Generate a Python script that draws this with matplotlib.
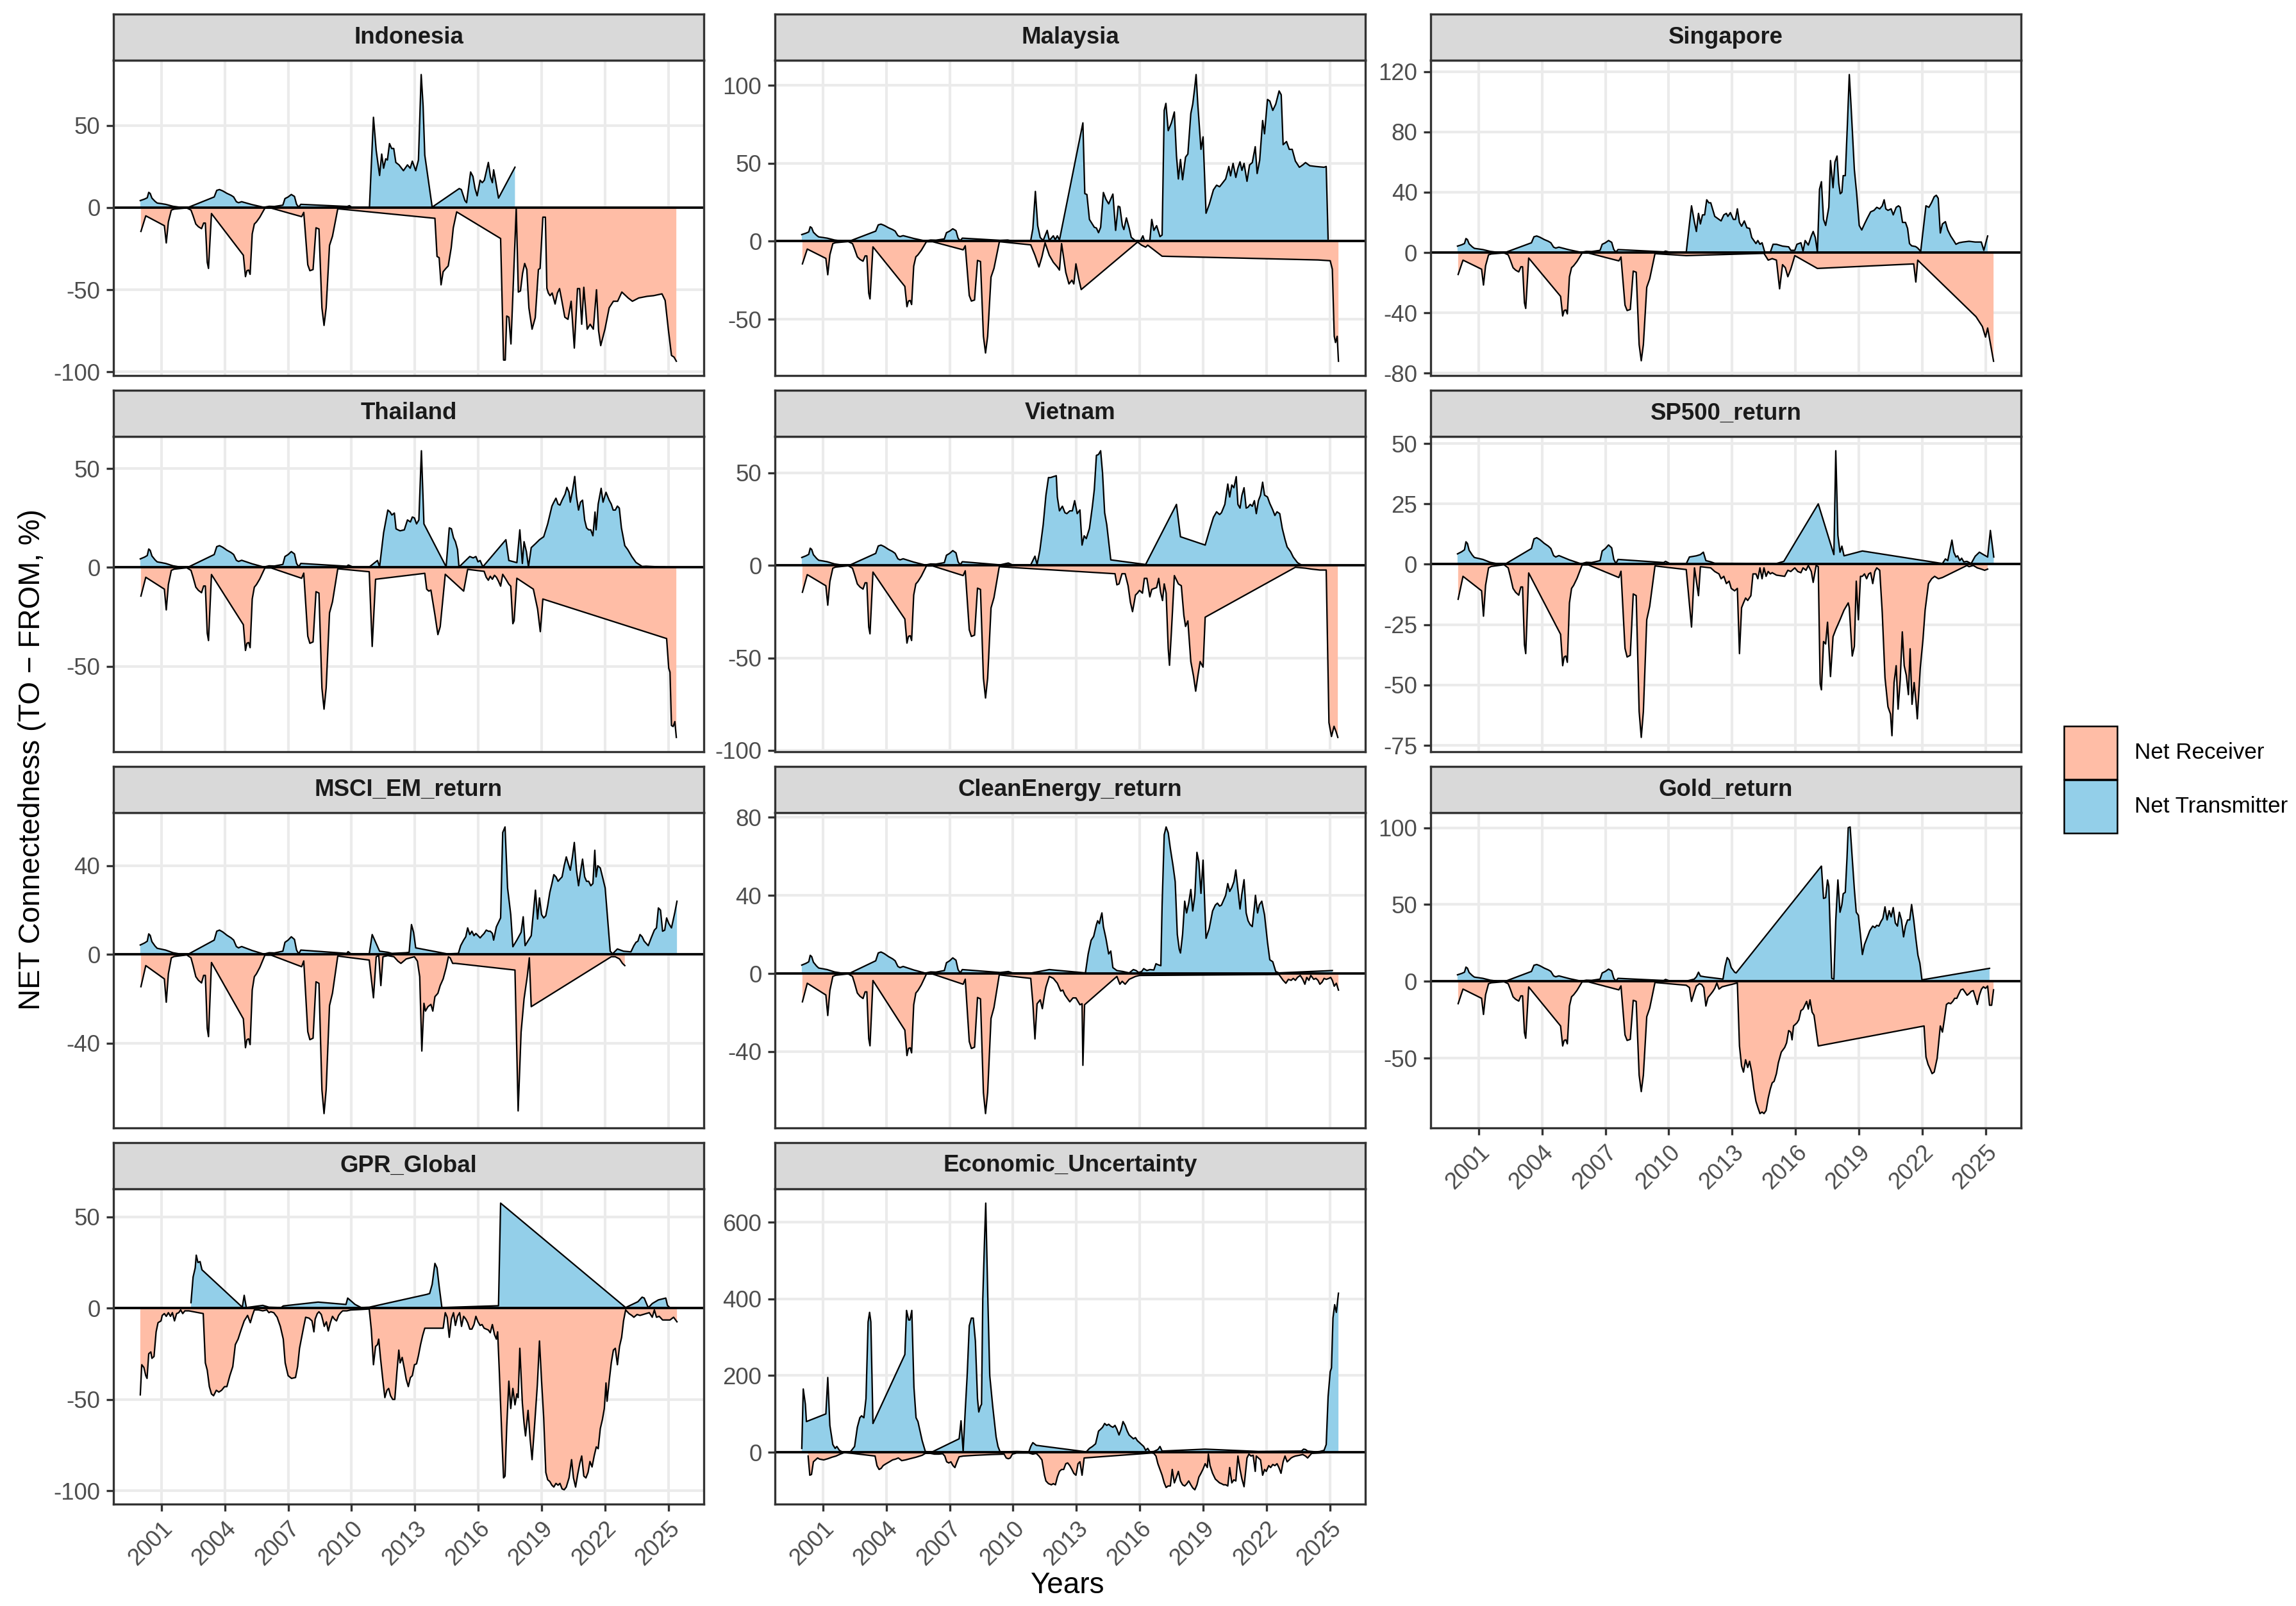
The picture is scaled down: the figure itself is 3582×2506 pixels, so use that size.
import matplotlib
matplotlib.use("Agg")
import matplotlib.pyplot as plt
from matplotlib.patches import Rectangle
import numpy as np

# ---------------- DATA ----------------
YEAR_TICKS = [2001, 2004, 2007, 2010, 2013, 2016, 2019, 2022, 2025]

COMMON_POS = [
    (2000.00, 4.3), (2000.20, 5.2), (2000.33, 6.0), (2000.40, 9.3), (2000.47, 8.6),
    (2000.55, 5.8), (2000.70, 3.8), (2000.80, 2.8), (2001.20, 2.0), (2001.55, 0.8),
    (2001.90, 0.2), (2002.30, 0.3), (2003.50, 6.5), (2003.62, 10.5), (2003.75, 11.0),
    (2003.90, 10.2), (2004.10, 8.7), (2004.30, 7.5), (2004.42, 6.5), (2004.55, 3.6),
    (2004.65, 3.0), (2004.80, 3.6), (2005.30, 1.8), (2005.85, 0.2), (2006.10, 0.8),
    (2006.35, 0.7), (2006.75, 1.5), (2006.85, 5.5), (2007.00, 6.5), (2007.15, 8.0),
    (2007.30, 6.8), (2007.40, 2.0), (2007.50, 0.3), (2007.60, 2.0),
]
COMMON_NEG = [
    (2000.03, -14.5), (2000.26, -5.0), (2001.14, -11.0), (2001.23, -21.5), (2001.33, -8.7),
    (2001.47, -1.5), (2001.60, -0.9), (2002.20, -0.2), (2002.40, -1.5), (2002.50, -5.0),
    (2002.63, -10.0), (2002.75, -11.6), (2002.90, -12.8), (2003.00, -9.4), (2003.08, -9.4),
    (2003.17, -33.3), (2003.23, -37.0), (2003.37, -3.6), (2004.88, -29.0), (2004.98, -42.0),
    (2005.05, -38.4), (2005.13, -38.0), (2005.20, -40.6), (2005.30, -16.0), (2005.40, -10.0),
    (2005.50, -8.7), (2005.66, -5.8), (2005.90, -0.3), (2006.20, -0.3), (2007.64, -5.5),
    (2007.74, -2.9), (2007.93, -34.8), (2008.03, -38.4), (2008.18, -37.7), (2008.32, -12.3),
    (2008.46, -13.0), (2008.60, -61.0), (2008.70, -71.7), (2008.80, -61.0), (2008.96, -23.0),
    (2009.10, -17.4), (2009.35, -0.7),
]

INDONESIA_POS = COMMON_POS + [
    (2009.80, 0.7), (2009.90, 1.2), (2010.00, 0.3), (2010.85, 0.2), (2011.04, 55), (2011.17, 34.8),
    (2011.33, 19.6), (2011.43, 32.6), (2011.52, 24), (2011.62, 29.7), (2011.70, 29), (2011.80, 39),
    (2011.90, 36), (2012.00, 36), (2012.10, 27.5), (2012.25, 26), (2012.46, 22.5), (2012.65, 26),
    (2012.78, 24), (2012.88, 28.3), (2013.04, 22.5), (2013.17, 29), (2013.30, 81), (2013.39, 62),
    (2013.47, 32), (2013.82, 0.3), (2015.10, 11.6), (2015.20, 11), (2015.37, 4.3), (2015.45, 3),
    (2015.64, 21.7), (2015.75, 19), (2015.85, 11.6), (2015.95, 7.2), (2016.09, 16.7), (2016.19, 15.2),
    (2016.29, 16.7), (2016.48, 27.5), (2016.58, 18.8), (2016.67, 15.2), (2016.73, 23), (2016.81, 17.4),
    (2016.96, 5.8), (2017.74, 24.6),
]
INDONESIA_NEG = COMMON_NEG + [
    (2013.95, -6.5), (2014.05, -29.7), (2014.15, -30.5), (2014.24, -47), (2014.34, -39), (2014.47, -37),
    (2014.58, -35.5), (2014.72, -24.6), (2014.82, -12.3), (2014.98, -2.6), (2017.06, -18.8),
    (2017.20, -92.8), (2017.28, -92.8), (2017.35, -66), (2017.45, -66.7), (2017.55, -83), (2017.80, -0.5),
    (2017.90, -51.4), (2018.00, -50.7), (2018.10, -40), (2018.20, -34), (2018.30, -37.7), (2018.40, -61),
    (2018.55, -74), (2018.70, -67), (2018.85, -37.7), (2018.93, -37), (2019.06, -5.8), (2019.18, -5.8),
    (2019.25, -49), (2019.32, -52), (2019.40, -53.6), (2019.50, -52), (2019.64, -58.7), (2019.75, -52),
    (2019.85, -49.3), (2019.95, -56), (2020.10, -66.7), (2020.25, -68), (2020.40, -57), (2020.55, -85.5),
    (2020.70, -49.3), (2020.80, -49.3), (2020.90, -71), (2021.00, -48.5), (2021.16, -74), (2021.30, -71),
    (2021.45, -74), (2021.60, -50), (2021.70, -75), (2021.80, -84), (2022.00, -74), (2022.20, -61),
    (2022.40, -57), (2022.60, -57), (2022.80, -51.4), (2023.10, -55), (2023.30, -57), (2023.60, -55),
    (2024.00, -54), (2024.30, -53.6), (2024.70, -52.5), (2024.85, -56.5), (2025.00, -74), (2025.15, -90),
    (2025.27, -91), (2025.38, -93.5),
]

MALAYSIA_POS = COMMON_POS + [
    (2009.39, 0.6), (2009.75, 0.8), (2009.97, 0.2), (2010.84, 0.5), (2010.94, 8), (2011.06, 32),
    (2011.17, 10), (2011.29, 2.4), (2011.43, 0.5), (2011.62, 7), (2011.72, 0.5), (2011.91, 3.5),
    (2012.00, 1), (2012.10, 3.5), (2012.20, 0.8), (2013.31, 76), (2013.40, 30.6), (2013.50, 30),
    (2013.62, 14), (2013.76, 11), (2013.85, 9), (2013.95, 8.5), (2014.05, 5.5), (2014.15, 9),
    (2014.28, 31.3), (2014.40, 27), (2014.53, 24), (2014.73, 30.3), (2014.86, 7), (2014.98, 22.5),
    (2015.06, 22), (2015.18, 10), (2015.25, 7.5), (2015.37, 15), (2015.50, 8.5), (2015.60, 2.5),
    (2015.80, 0.3), (2016.03, 0.2), (2016.15, 3.5), (2016.22, 0.5), (2016.48, 0.5), (2016.57, 14),
    (2016.67, 7), (2016.80, 10), (2016.96, 3), (2017.06, 4), (2017.16, 84), (2017.24, 88.5),
    (2017.35, 71), (2017.50, 76), (2017.64, 83), (2017.74, 55), (2017.83, 40), (2017.93, 52.5),
    (2018.03, 39.5), (2018.17, 54), (2018.28, 56), (2018.42, 82), (2018.51, 88), (2018.60, 98),
    (2018.67, 107), (2018.75, 88), (2018.90, 59), (2019.00, 67), (2019.14, 18), (2019.30, 24),
    (2019.49, 33), (2019.64, 36), (2019.78, 35), (2019.87, 36.5), (2020.07, 40), (2020.22, 48),
    (2020.30, 42), (2020.42, 50), (2020.55, 41), (2020.65, 47), (2020.75, 51), (2020.84, 45.5),
    (2020.94, 50), (2021.08, 38.5), (2021.20, 49), (2021.33, 50.5), (2021.47, 60.7), (2021.56, 43.5),
    (2021.68, 52), (2021.82, 77.5), (2021.91, 69), (2022.05, 91), (2022.16, 90), (2022.30, 84),
    (2022.44, 88), (2022.60, 96.5), (2022.70, 94), (2022.79, 62), (2022.95, 64), (2023.08, 59),
    (2023.22, 59), (2023.37, 51.5), (2023.56, 47.5), (2023.72, 49), (2023.85, 50.5), (2024.05, 48.5),
    (2024.34, 48), (2024.73, 47.5), (2024.83, 48), (2024.92, 1.5),
]
MALAYSIA_NEG = COMMON_NEG + [
    (2009.39, -0.3), (2010.84, -2.3), (2011.04, -9), (2011.23, -16.5), (2011.37, -10), (2011.52, -1),
    (2011.72, -9), (2011.91, -13.5), (2012.10, -16.5), (2012.20, -18.5), (2012.30, -1.5), (2012.50, -20),
    (2012.65, -27.4), (2012.79, -25), (2012.88, -27.4), (2012.98, -14.5), (2013.12, -24.5),
    (2013.23, -31), (2015.90, -0.5), (2016.09, -2.5), (2016.28, -3.8), (2016.38, -2.5), (2017.06, -9.6),
    (2024.44, -12), (2025.02, -12.5), (2025.12, -18), (2025.21, -61), (2025.27, -65), (2025.35, -61),
    (2025.41, -77),
]

SINGAPORE_POS = COMMON_POS + [
    (2009.76, 0.5), (2009.85, 1), (2010.05, 0.2), (2010.83, 0.2), (2011.08, 31), (2011.22, 20),
    (2011.31, 14), (2011.41, 26), (2011.50, 19), (2011.60, 25), (2011.70, 25), (2011.80, 35),
    (2011.90, 33), (2011.99, 33), (2012.18, 24), (2012.38, 22), (2012.48, 21), (2012.61, 25),
    (2012.73, 26), (2012.80, 24), (2012.92, 26.5), (2013.06, 22), (2013.16, 22), (2013.25, 29),
    (2013.35, 20), (2013.45, 17.5), (2013.58, 21), (2013.70, 16.5), (2013.83, 16), (2013.93, 10),
    (2014.03, 8), (2014.13, 6), (2014.22, 8), (2014.32, 5.5), (2014.42, 6.5), (2014.55, 0.2),
    (2014.81, 0.2), (2014.94, 5.5), (2015.10, 5.5), (2015.39, 4.3), (2015.68, 3.8), (2015.78, 1.5),
    (2015.97, 1.5), (2016.07, 5.5), (2016.26, 6.5), (2016.36, 1), (2016.46, 8), (2016.61, 5),
    (2016.75, 11), (2016.84, 14), (2016.94, 10), (2017.04, 0.3), (2017.14, 42), (2017.23, 47),
    (2017.33, 22), (2017.43, 18), (2017.58, 30), (2017.66, 61), (2017.78, 43), (2017.87, 60),
    (2017.97, 64), (2018.05, 46), (2018.12, 39), (2018.20, 40), (2018.26, 51), (2018.36, 51),
    (2018.46, 85), (2018.55, 118), (2018.63, 98), (2018.79, 55), (2018.90, 39), (2019.02, 18),
    (2019.14, 15), (2019.27, 19), (2019.41, 23), (2019.56, 27), (2019.72, 28), (2019.85, 30),
    (2019.99, 29), (2020.11, 31), (2020.20, 35), (2020.28, 29), (2020.38, 28), (2020.53, 29),
    (2020.63, 25), (2020.77, 30), (2020.88, 31), (2020.96, 30), (2021.07, 20), (2021.21, 20),
    (2021.31, 16), (2021.40, 6), (2021.50, 4.5), (2021.69, 4), (2021.79, 3), (2021.93, 0.8),
    (2022.09, 20), (2022.18, 31), (2022.32, 30), (2022.44, 33), (2022.57, 37), (2022.67, 38),
    (2022.76, 36), (2022.86, 13), (2022.96, 19), (2023.10, 20.5), (2023.21, 15), (2023.35, 11),
    (2023.49, 8), (2023.60, 5.5), (2023.74, 6.5), (2023.93, 7), (2024.22, 7.5), (2024.51, 7),
    (2024.80, 7), (2024.92, 1.5), (2025.10, 11),
]
SINGAPORE_NEG = COMMON_NEG + [
    (2010.83, -2.0), (2014.51, -0.5), (2014.71, -5), (2014.90, -4), (2015.10, -5), (2015.25, -24),
    (2015.39, -8), (2015.52, -10), (2015.64, -16), (2015.78, -11), (2015.97, -2), (2017.04, -10.5),
    (2021.60, -7.5), (2021.70, -19.5), (2021.79, -5), (2024.55, -42.5), (2024.85, -49),
    (2025.00, -56), (2025.10, -50), (2025.38, -72),
]

THAILAND_POS = COMMON_POS + [
    (2009.78, 0.6), (2009.85, 1.2), (2010.07, 0.2), (2010.84, 0.2), (2011.23, 3.5), (2011.33, 0.3),
    (2011.52, 17.5), (2011.72, 29), (2011.83, 28), (2011.91, 26.5), (2012.03, 27.5), (2012.11, 19.5),
    (2012.20, 19), (2012.30, 18.5), (2012.50, 19), (2012.65, 24), (2012.79, 23), (2012.88, 25.5),
    (2012.98, 25), (2013.08, 22), (2013.19, 24), (2013.31, 59), (2013.43, 22), (2014.48, 0.3),
    (2014.63, 20), (2014.73, 19.5), (2014.83, 15), (2014.92, 13), (2015.02, 9), (2015.09, 0.2),
    (2015.60, 5.5), (2015.76, 4.8), (2015.89, 5.5), (2015.99, 2.8), (2016.09, 3.5), (2016.22, 0.3),
    (2017.31, 14), (2017.45, 3.5), (2017.83, 2.4), (2017.97, 19), (2018.09, 2), (2018.17, 13),
    (2018.28, 8), (2018.38, 0.3), (2018.51, 10), (2018.71, 12), (2018.90, 14), (2019.10, 15.5),
    (2019.29, 22), (2019.49, 31), (2019.58, 33), (2019.68, 35), (2019.78, 32), (2019.87, 31.5),
    (2019.97, 34), (2020.11, 37), (2020.20, 40.5), (2020.30, 38), (2020.36, 33), (2020.46, 38.5),
    (2020.57, 46), (2020.65, 36), (2020.75, 29), (2020.84, 33), (2020.94, 34), (2021.04, 24),
    (2021.13, 20), (2021.23, 19), (2021.33, 19), (2021.43, 16), (2021.53, 28), (2021.58, 19),
    (2021.68, 32), (2021.82, 40), (2021.91, 33), (2022.05, 38), (2022.20, 34), (2022.30, 32),
    (2022.39, 29), (2022.49, 29), (2022.59, 31), (2022.68, 30), (2022.78, 20), (2022.94, 11),
    (2023.08, 9), (2023.27, 5.5), (2023.47, 2.5), (2023.76, 0.5), (2023.95, 0.6), (2024.34, 0.4),
    (2024.63, 0.2), (2024.83, 0.2),
]
THAILAND_NEG = COMMON_NEG + [
    (2010.84, -2.2), (2010.98, -40), (2011.14, -6), (2013.47, -3), (2013.56, -11), (2013.66, -12),
    (2013.76, -11.5), (2013.95, -24), (2014.09, -34), (2014.20, -30), (2014.44, -3.5), (2015.31, -12),
    (2015.50, -1), (2016.28, -2), (2016.38, -5), (2016.48, -6.5), (2016.57, -4.5), (2016.67, -6),
    (2016.77, -4), (2016.86, -5), (2016.96, -7), (2017.06, -9.5), (2017.16, -3.5), (2017.31, -6),
    (2017.45, -8.5), (2017.54, -9.5), (2017.64, -28.5), (2017.70, -27), (2017.83, -5.5),
    (2018.61, -11), (2018.81, -21), (2018.94, -32.5), (2019.06, -16), (2024.92, -36), (2025.02, -51),
    (2025.08, -53), (2025.15, -80), (2025.23, -80.5), (2025.31, -78), (2025.38, -86),
]

VIETNAM_POS = COMMON_POS + [
    (2009.39, 0.3), (2009.78, 1.3), (2009.97, 0.3), (2010.84, 0.3), (2011.04, 5), (2011.14, 0.5),
    (2011.27, 8), (2011.43, 22), (2011.56, 38), (2011.68, 47.5), (2011.78, 47.5), (2011.91, 48),
    (2012.05, 48.5), (2012.10, 37), (2012.20, 29.5), (2012.34, 32), (2012.46, 28.5), (2012.55, 28),
    (2012.69, 29.5), (2012.81, 29.5), (2012.92, 35), (2013.04, 28), (2013.17, 30), (2013.27, 11),
    (2013.37, 16), (2013.47, 14.5), (2013.62, 20), (2013.76, 32), (2013.85, 41), (2013.95, 59.5),
    (2014.05, 60), (2014.15, 62), (2014.24, 50), (2014.34, 28.5), (2014.44, 22), (2014.63, 3),
    (2016.28, 0.5), (2017.74, 33), (2017.93, 15.5), (2019.10, 11), (2019.33, 20), (2019.49, 26),
    (2019.64, 29), (2019.78, 27.5), (2019.87, 28.5), (2020.03, 33), (2020.17, 44), (2020.26, 37),
    (2020.36, 43.5), (2020.46, 42), (2020.57, 48), (2020.65, 33), (2020.75, 31), (2020.84, 38),
    (2020.94, 42), (2021.04, 31), (2021.13, 31.5), (2021.23, 33), (2021.33, 32), (2021.43, 35),
    (2021.52, 28), (2021.62, 35), (2021.72, 38), (2021.82, 45), (2021.91, 38), (2022.05, 37),
    (2022.16, 33.5), (2022.30, 30), (2022.40, 27), (2022.50, 29), (2022.63, 28), (2022.75, 20),
    (2022.88, 14), (2022.98, 10), (2023.14, 7.5), (2023.27, 4.5), (2023.47, 1.5), (2023.66, 0.2),
]
VIETNAM_NEG = COMMON_NEG + [
    (2014.83, -4.5), (2014.92, -10.5), (2015.02, -10), (2015.16, -4.5), (2015.31, -4.5),
    (2015.45, -11), (2015.56, -20), (2015.66, -25), (2015.80, -16), (2015.89, -15), (2015.99, -13.5),
    (2016.13, -15), (2016.22, -7), (2016.34, -7), (2016.48, -17), (2016.57, -13), (2016.67, -12.5),
    (2016.80, -12), (2016.90, -7), (2016.99, -14.5), (2017.08, -19), (2017.16, -10), (2017.25, -15),
    (2017.35, -45), (2017.41, -54), (2017.50, -36), (2017.64, -5.5), (2017.83, -10), (2017.97, -11),
    (2018.09, -27), (2018.17, -33), (2018.28, -30), (2018.42, -52), (2018.55, -60), (2018.65, -68),
    (2018.75, -60), (2018.86, -52), (2019.00, -55), (2019.10, -28), (2023.37, -1), (2023.85, -1.5),
    (2024.14, -2), (2024.53, -2.5), (2024.83, -2.5), (2024.96, -85), (2025.08, -92.5),
    (2025.20, -87), (2025.30, -90), (2025.38, -93),
]

SP500_POS = COMMON_POS + [
    (2009.76, 0.7), (2009.85, 1.2), (2010.05, 0.3), (2010.83, 0.2), (2010.98, 3), (2011.31, 3.5),
    (2011.50, 4), (2011.64, 5), (2011.76, 1.5), (2011.99, 1), (2012.18, 0.4), (2015.10, 0.3),
    (2015.45, 1.2), (2017.08, 25), (2017.82, 4), (2017.91, 47), (2018.01, 12), (2018.11, 5),
    (2018.20, 7.5), (2018.30, 3.5), (2019.17, 5.5), (2022.96, 0.3), (2023.10, 2.2), (2023.21, 1.5),
    (2023.41, 10), (2023.50, 5), (2023.60, 3), (2023.68, 3.5), (2023.78, 1.5), (2023.87, 2.5),
    (2023.97, 1), (2024.12, 1.2), (2024.32, 0.3), (2024.51, 3.3), (2024.71, 5), (2024.90, 4),
    (2025.10, 3), (2025.23, 14), (2025.39, 3),
]
SP500_NEG = COMMON_NEG + [
    (2010.83, -2.2), (2011.08, -26), (2011.22, -1.5), (2011.41, -13), (2011.50, -1), (2011.99, -1.5),
    (2012.18, -3), (2012.38, -4), (2012.48, -6), (2012.61, -5), (2012.73, -8), (2012.86, -7),
    (2012.96, -10), (2013.12, -11), (2013.25, -10), (2013.35, -37), (2013.45, -18), (2013.54, -16),
    (2013.64, -14), (2013.74, -15), (2013.89, -13), (2013.99, -4), (2014.13, -4), (2014.22, -6),
    (2014.32, -1.5), (2014.42, -6), (2014.51, -1.5), (2014.61, -5), (2014.71, -3), (2014.81, -4),
    (2014.90, -3.5), (2015.10, -4.5), (2015.49, -5), (2015.64, -2.5), (2015.78, -3), (2015.97, -1.5),
    (2016.11, -3), (2016.26, -3.5), (2016.36, -1.5), (2016.50, -2.5), (2016.61, -0.5), (2016.75, -3),
    (2016.84, -7.5), (2016.98, -0.5), (2017.08, -1), (2017.17, -49.5), (2017.23, -52), (2017.33, -32),
    (2017.43, -33), (2017.52, -24), (2017.66, -46.5), (2017.78, -30), (2017.91, -27), (2018.11, -23),
    (2018.30, -19), (2018.50, -16), (2018.55, -18), (2018.69, -38), (2018.79, -34), (2018.88, -7),
    (2018.98, -23), (2019.08, -5), (2019.17, -5), (2019.27, -4), (2019.37, -6), (2019.47, -4),
    (2019.56, -3.5), (2019.66, -8), (2019.76, -3), (2019.85, -1.5), (2019.99, -2.5), (2020.11, -20),
    (2020.24, -47), (2020.38, -59), (2020.50, -62), (2020.57, -71), (2020.67, -49), (2020.77, -42),
    (2020.86, -60), (2020.96, -48), (2021.06, -28), (2021.15, -42), (2021.25, -46), (2021.35, -54),
    (2021.43, -35), (2021.52, -58), (2021.62, -49), (2021.71, -57), (2021.77, -64), (2021.91, -43),
    (2022.04, -31), (2022.14, -19), (2022.30, -8), (2022.45, -6), (2022.59, -5), (2022.77, -6),
    (2022.96, -5.5), (2024.12, -0.5), (2024.22, -1), (2024.42, -0.5), (2024.61, -1.5), (2024.80, -2),
    (2024.96, -2.5), (2025.10, -2),
]

MSCI_POS = COMMON_POS + [
    (2009.78, 0.5), (2009.84, 1.3), (2009.97, 0.3), (2010.84, 0.3), (2010.98, 9), (2011.33, 1.5),
    (2011.72, 1), (2011.91, 0.5), (2012.59, 0.8), (2012.73, 1), (2012.84, 13.5), (2012.94, 10),
    (2013.04, 3), (2014.53, 0.3), (2015.06, 0.5), (2015.17, 4), (2015.31, 6.5), (2015.41, 8),
    (2015.50, 12), (2015.60, 9), (2015.70, 10.5), (2015.80, 8.5), (2015.89, 9.5), (2015.99, 8.5),
    (2016.09, 7.5), (2016.18, 8.5), (2016.28, 9.5), (2016.38, 11), (2016.48, 10.5), (2016.57, 10.5),
    (2016.67, 9.5), (2016.73, 6.5), (2016.86, 12.5), (2016.96, 14.5), (2017.06, 16.5), (2017.16, 55),
    (2017.27, 57.5), (2017.39, 30), (2017.54, 18), (2017.64, 3.5), (2017.83, 6.5), (2018.03, 10),
    (2018.13, 17), (2018.22, 4), (2018.51, 8.5), (2018.71, 29), (2018.81, 16), (2018.90, 25.5),
    (2019.00, 18), (2019.10, 16.5), (2019.20, 17.5), (2019.29, 22), (2019.39, 28), (2019.49, 32),
    (2019.58, 36), (2019.68, 35), (2019.78, 33), (2019.87, 34), (2019.97, 35), (2020.07, 40),
    (2020.17, 44), (2020.26, 41), (2020.36, 38), (2020.46, 44), (2020.55, 50.5), (2020.65, 38),
    (2020.75, 31), (2020.84, 37), (2020.94, 43), (2021.04, 35), (2021.13, 33), (2021.23, 33),
    (2021.33, 31), (2021.43, 32), (2021.52, 47), (2021.58, 35), (2021.66, 40), (2021.78, 39),
    (2021.91, 34), (2022.01, 30), (2022.25, 1.5), (2022.36, 0.3), (2022.59, 2.5), (2022.88, 1.5),
    (2023.23, 1.2), (2023.37, 4), (2023.47, 5.5), (2023.56, 6), (2023.66, 9), (2023.76, 8),
    (2023.86, 6), (2024.05, 4), (2024.19, 7.5), (2024.34, 11), (2024.44, 12), (2024.53, 21),
    (2024.63, 20), (2024.73, 10.5), (2024.83, 11), (2024.92, 16.5), (2025.02, 14), (2025.15, 12),
    (2025.31, 19), (2025.41, 24),
]
MSCI_NEG = COMMON_NEG + [
    (2010.84, -2.5), (2011.04, -19.5), (2011.17, -1), (2011.29, -0.5), (2011.39, -14), (2011.49, -1),
    (2011.72, -0.5), (2012.01, -1), (2012.20, -3), (2012.34, -4), (2012.59, -2), (2012.98, -1),
    (2013.12, -3), (2013.23, -10), (2013.33, -43.5), (2013.43, -22), (2013.50, -25.5), (2013.62, -23.5),
    (2013.76, -22.5), (2013.85, -25.5), (2013.95, -19), (2014.09, -17.5), (2014.20, -14),
    (2014.34, -11), (2014.48, -6), (2014.59, -1), (2014.67, -1.5), (2014.79, -4), (2014.92, -4),
    (2017.74, -7), (2017.89, -70.5), (2018.03, -35), (2018.17, -20), (2018.32, -10), (2018.42, -1.5),
    (2018.51, -23.5), (2022.30, -1), (2022.49, -1), (2022.69, -2), (2022.83, -4), (2022.94, -5),
]

CLEAN_POS = COMMON_POS + [
    (2009.39, 0.5), (2009.78, 1), (2009.97, 0.3), (2010.84, 0.2), (2011.72, 2), (2011.91, 1.8),
    (2013.43, 0.3), (2013.56, 10), (2013.70, 17), (2013.82, 19), (2013.95, 25), (2014.01, 27),
    (2014.09, 25.5), (2014.15, 28.5), (2014.21, 31), (2014.28, 24), (2014.40, 18), (2014.53, 10),
    (2014.63, 11.5), (2014.73, 3), (2014.92, 1.5), (2015.21, 1), (2015.50, 0.3), (2015.70, 2),
    (2015.83, 1.5), (2015.95, 0.5), (2016.09, 1), (2016.19, 2.5), (2016.34, 1.5), (2016.48, 2),
    (2016.67, 1.8), (2016.77, 5), (2016.86, 4.5), (2017.00, 4), (2017.06, 35), (2017.16, 71),
    (2017.25, 75), (2017.35, 72), (2017.45, 64), (2017.58, 55), (2017.68, 47), (2017.78, 20),
    (2017.87, 12.5), (2017.93, 10.5), (2018.03, 20), (2018.13, 37), (2018.22, 31), (2018.32, 36),
    (2018.42, 43), (2018.51, 32), (2018.61, 40), (2018.71, 62), (2018.80, 57), (2018.90, 41),
    (2019.00, 58), (2019.14, 18), (2019.29, 23), (2019.45, 32), (2019.58, 35), (2019.68, 36),
    (2019.78, 34.5), (2019.87, 35), (2019.97, 37.5), (2020.07, 40), (2020.17, 46), (2020.26, 42),
    (2020.36, 44), (2020.46, 47), (2020.55, 53), (2020.65, 43), (2020.75, 33), (2020.84, 41),
    (2020.94, 48), (2021.04, 31), (2021.13, 27), (2021.23, 25), (2021.33, 24), (2021.43, 34),
    (2021.48, 40), (2021.58, 31), (2021.66, 35), (2021.78, 37), (2021.91, 30), (2022.05, 16),
    (2022.16, 7), (2022.30, 6), (2022.44, 1), (2022.59, 0.3), (2025.12, 1.5),
]
CLEAN_NEG = COMMON_NEG + [
    (2010.84, -2.5), (2010.94, -15), (2011.04, -33.5), (2011.14, -15.5), (2011.29, -13.5),
    (2011.39, -18), (2011.49, -11), (2011.56, -7), (2011.72, -1.5), (2011.91, -2.5), (2012.10, -5),
    (2012.26, -9), (2012.36, -8.5), (2012.46, -11), (2012.59, -13), (2012.69, -14.5), (2012.84, -12.5),
    (2012.98, -12.5), (2013.17, -16), (2013.27, -15.5), (2013.31, -47), (2013.39, -16), (2014.92, -1.5),
    (2015.06, -5.5), (2015.17, -4), (2015.31, -5.5), (2015.50, -3), (2015.80, -1.5), (2015.99, -1),
    (2022.59, -0.5), (2022.79, -3.5), (2022.92, -5), (2023.04, -3), (2023.17, -3.5), (2023.27, -2.5),
    (2023.37, -3.5), (2023.47, -2), (2023.60, -1), (2023.72, -3), (2023.82, -5.5), (2023.91, -2),
    (2024.01, -3.5), (2024.10, -1), (2024.24, -3), (2024.34, -2.5), (2024.44, -3.5), (2024.53, -5.5),
    (2024.63, -4.5), (2024.73, -2.5), (2024.83, -3), (2024.96, -2.5), (2025.04, -2), (2025.12, -3.5),
    (2025.21, -6.5), (2025.31, -5), (2025.41, -8.5),
]

GOLD_POS = COMMON_POS + [
    (2009.76, 0.6), (2009.85, 1.3), (2010.05, 0.3), (2010.83, 0.2), (2011.21, 1.5), (2011.31, 3),
    (2011.41, 6), (2011.50, 3.5), (2011.70, 3), (2012.57, 1.5), (2012.67, 10), (2012.77, 15.5),
    (2012.86, 14), (2012.96, 9), (2013.12, 6), (2013.19, 5.5), (2017.17, 74), (2017.23, 75),
    (2017.33, 54), (2017.43, 54.5), (2017.52, 66), (2017.58, 62), (2017.72, 2), (2017.82, 1.5),
    (2017.91, 40), (2018.01, 66), (2018.11, 45), (2018.20, 50), (2018.26, 57), (2018.36, 58),
    (2018.44, 80), (2018.50, 100), (2018.59, 100.5), (2018.69, 80), (2018.79, 60), (2018.88, 45),
    (2018.98, 43), (2019.08, 30), (2019.17, 17.5), (2019.27, 24), (2019.41, 29), (2019.52, 33),
    (2019.66, 36), (2019.76, 35), (2019.85, 36.5), (2019.95, 36), (2020.05, 39), (2020.14, 41),
    (2020.24, 48.5), (2020.34, 40), (2020.44, 46), (2020.53, 42), (2020.63, 48), (2020.73, 38),
    (2020.83, 36), (2020.92, 45), (2021.02, 40), (2021.12, 29), (2021.21, 36), (2021.31, 40),
    (2021.41, 40), (2021.50, 50), (2021.60, 40), (2021.70, 28), (2021.80, 17), (2021.89, 12),
    (2021.99, 1), (2025.19, 8.5),
]
GOLD_NEG = COMMON_NEG + [
    (2010.83, -2.5), (2010.98, -4), (2011.08, -13), (2011.21, -7), (2011.31, -3), (2011.45, -1.5),
    (2011.56, -2), (2011.66, -4), (2011.76, -16), (2011.86, -10.5), (2011.95, -9), (2012.09, -6.5),
    (2012.18, -4.5), (2012.28, -1), (2012.38, -5), (2012.53, -3.5), (2013.25, -1), (2013.35, -42),
    (2013.45, -55), (2013.54, -59), (2013.64, -51), (2013.74, -56), (2013.83, -52), (2013.93, -59),
    (2014.03, -70), (2014.13, -78), (2014.22, -82), (2014.32, -86), (2014.42, -85), (2014.51, -86),
    (2014.61, -84), (2014.71, -76), (2014.81, -70), (2014.90, -66), (2014.99, -65), (2015.10, -60),
    (2015.19, -53), (2015.33, -46), (2015.49, -43), (2015.58, -40), (2015.68, -32), (2015.78, -33),
    (2015.84, -38), (2015.91, -29), (2016.07, -27), (2016.16, -25), (2016.26, -19), (2016.36, -18),
    (2016.46, -15), (2016.53, -13), (2016.61, -18), (2016.69, -12), (2016.79, -20), (2016.88, -22),
    (2017.08, -42), (2022.09, -29), (2022.18, -49), (2022.28, -54), (2022.38, -57), (2022.47, -60),
    (2022.57, -59), (2022.71, -50), (2022.86, -29), (2022.96, -33), (2023.05, -25), (2023.15, -15),
    (2023.25, -14), (2023.35, -14.5), (2023.45, -13), (2023.54, -11), (2023.64, -11), (2023.74, -8),
    (2023.83, -5.5), (2023.93, -5), (2024.03, -7), (2024.13, -9), (2024.22, -8), (2024.32, -6.5),
    (2024.42, -6), (2024.51, -10), (2024.61, -15), (2024.71, -9), (2024.81, -5), (2024.90, -3.5),
    (2025.00, -4.5), (2025.10, -3), (2025.19, -15.5), (2025.29, -15.5), (2025.38, -5.5),
]

GPR_POS = [
    (2002.40, 3), (2002.50, 17), (2002.60, 22), (2002.65, 29), (2002.73, 25), (2002.83, 25.5),
    (2002.92, 21), (2004.83, 0.5), (2004.92, 7), (2005.02, 0.3), (2005.80, 1.5), (2006.09, 0.5),
    (2006.67, 0.3), (2006.77, 1.2), (2008.42, 3.3), (2009.74, 2), (2009.82, 5.5), (2010.17, 2),
    (2010.46, 0.3), (2010.84, 0.5), (2013.56, 7.5), (2013.70, 8), (2013.82, 13), (2013.95, 24.5),
    (2014.05, 22), (2014.15, 12), (2014.28, 0.3), (2016.96, 1.3), (2017.06, 57.5), (2022.98, 0.3),
    (2023.56, 3.5), (2023.76, 6), (2023.86, 5.5), (2023.95, 3), (2024.05, 0.2), (2024.24, 2.5),
    (2024.53, 4.5), (2024.88, 5.5), (2024.96, 1.5), (2025.08, 0.2),
]
GPR_NEG = [
    (2000.00, -47.5), (2000.07, -31), (2000.17, -32.5), (2000.26, -37), (2000.32, -38.5), (2000.40, -25),
    (2000.50, -24), (2000.55, -27.5), (2000.65, -26.5), (2000.75, -13), (2000.84, -8), (2000.98, -7),
    (2001.04, -4), (2001.14, -3), (2001.23, -4.5), (2001.33, -2.5), (2001.43, -4.5), (2001.52, -2.5),
    (2001.62, -7), (2001.72, -3), (2001.82, -2.5), (2001.91, -1), (2002.01, -3), (2002.11, -1.5),
    (2002.30, -1.5), (2002.98, -3), (2003.08, -30), (2003.17, -34), (2003.27, -43), (2003.37, -47),
    (2003.47, -48), (2003.60, -45), (2003.72, -46), (2003.85, -45), (2003.99, -43), (2004.10, -43),
    (2004.24, -37), (2004.38, -32), (2004.50, -20), (2004.63, -17), (2004.77, -12), (2004.92, -7),
    (2005.08, -4), (2005.21, -8), (2005.31, -4), (2005.40, -1), (2005.60, -1), (2005.80, -1.5),
    (2005.99, -1), (2006.09, -2.5), (2006.18, -2), (2006.32, -2.5), (2006.48, -5), (2006.63, -10),
    (2006.77, -17), (2006.86, -30), (2007.00, -37), (2007.16, -38.5), (2007.35, -38), (2007.45, -32),
    (2007.54, -22), (2007.64, -16), (2007.74, -10), (2007.83, -5), (2007.99, -5.5), (2008.13, -7),
    (2008.22, -13), (2008.28, -6), (2008.38, -3), (2008.46, -2), (2008.57, -3.5), (2008.65, -7),
    (2008.71, -10), (2008.81, -7.5), (2008.90, -12.5), (2009.00, -8), (2009.10, -4.5), (2009.19, -6),
    (2009.29, -7), (2009.39, -4), (2009.49, -2.5), (2009.58, -1.5), (2009.78, -1.5), (2009.97, -1),
    (2010.36, -0.8), (2010.84, -0.5), (2010.94, -12), (2011.04, -31), (2011.14, -21), (2011.23, -20),
    (2011.29, -17), (2011.37, -27), (2011.49, -40), (2011.58, -49), (2011.68, -45), (2011.76, -44),
    (2011.85, -48), (2011.95, -50), (2012.05, -50), (2012.15, -35), (2012.24, -23), (2012.30, -30),
    (2012.40, -27), (2012.50, -33), (2012.59, -39), (2012.69, -43), (2012.79, -38), (2012.88, -37),
    (2012.98, -31), (2013.08, -30.5), (2013.17, -26), (2013.27, -20), (2013.37, -15), (2013.47, -11),
    (2014.34, -11), (2014.44, -2.5), (2014.53, -5), (2014.63, -16), (2014.73, -6), (2014.83, -2.5),
    (2014.92, -9.5), (2015.02, -4.5), (2015.12, -2.5), (2015.21, -10), (2015.31, -4.5), (2015.41, -6),
    (2015.50, -8), (2015.60, -11.5), (2015.70, -11.5), (2015.80, -9), (2015.89, -4.5), (2015.99, -7.5),
    (2016.09, -9.5), (2016.18, -9), (2016.28, -11), (2016.38, -11.5), (2016.48, -12), (2016.57, -13.5),
    (2016.67, -9), (2016.77, -14.5), (2016.86, -17), (2016.92, -13), (2017.00, -35), (2017.12, -71),
    (2017.20, -93), (2017.27, -92), (2017.35, -65), (2017.45, -40), (2017.54, -55), (2017.64, -44),
    (2017.74, -53), (2017.83, -47), (2017.89, -49), (2017.97, -22), (2018.09, -52), (2018.17, -63),
    (2018.24, -70), (2018.36, -56), (2018.46, -72), (2018.55, -83), (2018.67, -64), (2018.80, -42),
    (2018.90, -18), (2019.00, -40), (2019.10, -60), (2019.20, -90), (2019.29, -94), (2019.39, -95),
    (2019.49, -97), (2019.58, -98), (2019.68, -96), (2019.78, -97), (2019.87, -96), (2019.97, -99),
    (2020.07, -99.5), (2020.17, -98), (2020.30, -93), (2020.42, -83), (2020.51, -93), (2020.61, -98),
    (2020.71, -91), (2020.81, -85), (2020.90, -81), (2021.00, -92), (2021.10, -93), (2021.20, -90),
    (2021.29, -84), (2021.39, -87), (2021.49, -81), (2021.59, -76), (2021.68, -77), (2021.78, -66),
    (2021.88, -61), (2021.97, -55), (2022.05, -41), (2022.10, -51), (2022.20, -40), (2022.30, -30),
    (2022.40, -23), (2022.49, -22), (2022.59, -31), (2022.69, -21), (2022.79, -16), (2022.88, -7),
    (2022.98, -1), (2023.14, -3), (2023.27, -4), (2023.37, -5), (2023.52, -3.5), (2023.66, -4),
    (2023.80, -3.5), (2023.95, -3), (2024.10, -2.5), (2024.24, -5), (2024.34, -1), (2024.44, -5),
    (2024.57, -4.5), (2024.73, -6.5), (2024.92, -6.5), (2025.08, -6.5), (2025.25, -5), (2025.41, -7.5),
]

ECON_POS = [
    (2000.00, 10), (2000.07, 165), (2000.17, 125), (2000.22, 80), (2001.14, 100), (2001.23, 195),
    (2001.33, 70), (2001.47, 20), (2001.58, 10), (2001.66, 15), (2001.78, 5), (2001.91, 1),
    (2002.11, 1), (2002.30, 1), (2002.50, 15), (2002.63, 65), (2002.75, 90), (2002.83, 95),
    (2002.94, 90), (2003.04, 140), (2003.14, 340), (2003.21, 365), (2003.27, 340), (2003.37, 75),
    (2004.88, 255), (2004.96, 370), (2005.06, 345), (2005.12, 345), (2005.21, 370), (2005.31, 170),
    (2005.41, 90), (2005.50, 80), (2005.60, 55), (2005.70, 30), (2005.85, 2), (2005.99, 1),
    (2006.18, 1), (2007.45, 35), (2007.54, 82), (2007.64, 2), (2007.74, 110), (2007.83, 200),
    (2007.93, 330), (2008.03, 350), (2008.12, 350), (2008.22, 290), (2008.32, 140), (2008.38, 105),
    (2008.46, 120), (2008.51, 125), (2008.57, 400), (2008.65, 550), (2008.71, 650), (2008.81, 400),
    (2008.90, 200), (2009.04, 120), (2009.20, 40), (2009.29, 15), (2009.39, 1), (2009.58, 1),
    (2010.17, 2), (2010.75, 1), (2010.84, 15), (2010.94, 25), (2011.10, 18), (2013.47, 1),
    (2013.62, 10), (2013.76, 15), (2013.91, 22), (2014.05, 55), (2014.15, 60), (2014.24, 65),
    (2014.34, 75), (2014.44, 70), (2014.53, 73), (2014.63, 68), (2014.73, 65), (2014.83, 70),
    (2014.92, 60), (2015.02, 45), (2015.12, 60), (2015.21, 80), (2015.31, 70), (2015.41, 55),
    (2015.50, 45), (2015.60, 40), (2015.70, 35), (2015.80, 38), (2015.89, 30), (2015.99, 25),
    (2016.09, 20), (2016.19, 15), (2016.28, 5), (2016.38, 10), (2016.48, 1), (2016.67, 2),
    (2016.86, 7), (2016.96, 15), (2017.06, 3), (2019.10, 8), (2021.62, 2), (2023.66, 3),
    (2023.76, 8), (2023.85, 7), (2023.95, 3), (2024.14, 2), (2024.34, 1), (2024.53, 2),
    (2024.73, 5), (2024.83, 20), (2024.92, 145), (2025.02, 210), (2025.08, 220), (2025.15, 350),
    (2025.23, 385), (2025.31, 365), (2025.41, 415),
]
ECON_NEG = [
    (2000.30, -10), (2000.38, -60), (2000.46, -58), (2000.55, -25), (2000.65, -20), (2000.75, -15),
    (2000.84, -18), (2001.04, -20), (2001.23, -17), (2001.43, -13), (2001.62, -10), (2001.82, -5),
    (2002.01, -1), (2002.40, -3), (2003.47, -10), (2003.56, -35), (2003.66, -45), (2003.76, -42),
    (2003.85, -35), (2003.99, -30), (2004.15, -25), (2004.30, -20), (2004.44, -18), (2004.57, -15),
    (2004.69, -20), (2004.73, -22), (2004.92, -20), (2005.12, -17), (2005.41, -13), (2005.70, -8),
    (2005.85, -3), (2006.09, -3), (2006.28, -5), (2006.48, -5), (2006.67, -4), (2006.77, -10),
    (2006.86, -25), (2006.96, -28), (2007.06, -25), (2007.16, -35), (2007.25, -40), (2007.35, -25),
    (2007.45, -12), (2007.64, -10), (2008.22, -8), (2009.00, -6), (2009.58, -5), (2009.68, -15),
    (2009.78, -17), (2009.87, -15), (2009.97, -5), (2010.17, -2), (2010.75, -2), (2010.94, -5),
    (2011.10, -3), (2011.23, -10), (2011.37, -20), (2011.49, -60), (2011.56, -75), (2011.68, -82),
    (2011.82, -85), (2011.91, -82), (2012.01, -85), (2012.10, -65), (2012.20, -50), (2012.30, -45),
    (2012.40, -45), (2012.50, -30), (2012.59, -28), (2012.69, -35), (2012.79, -45), (2012.88, -55),
    (2012.98, -60), (2013.08, -30), (2013.17, -25), (2013.27, -60), (2013.37, -15), (2016.57, -2),
    (2016.67, -3), (2016.77, -10), (2016.86, -30), (2016.96, -45), (2017.06, -60), (2017.16, -80),
    (2017.25, -92), (2017.35, -88), (2017.45, -88), (2017.54, -45), (2017.64, -80), (2017.74, -65),
    (2017.83, -50), (2017.93, -75), (2018.03, -85), (2018.13, -88), (2018.22, -83), (2018.32, -75),
    (2018.42, -85), (2018.51, -93), (2018.61, -98), (2018.71, -85), (2018.80, -65), (2018.90, -55),
    (2018.99, -45), (2019.10, -30), (2019.20, -40), (2019.25, -5), (2019.33, -35), (2019.45, -55),
    (2019.58, -70), (2019.68, -75), (2019.78, -80), (2019.87, -82), (2019.97, -85), (2020.07, -85),
    (2020.17, -88), (2020.26, -40), (2020.36, -80), (2020.46, -72), (2020.55, -75), (2020.65, -10),
    (2020.75, -45), (2020.84, -70), (2020.94, -90), (2021.08, -15), (2021.17, -5), (2021.27, -10),
    (2021.37, -8), (2021.47, -50), (2021.52, -10), (2021.62, -15), (2021.72, -20), (2021.82, -60),
    (2021.91, -45), (2021.99, -50), (2022.11, -35), (2022.20, -40), (2022.30, -32), (2022.40, -35),
    (2022.50, -30), (2022.59, -40), (2022.69, -55), (2022.79, -25), (2022.88, -10), (2022.98, -25),
    (2023.08, -20), (2023.17, -15), (2023.27, -12), (2023.37, -10), (2023.56, -8), (2023.72, -6),
    (2023.85, -10), (2023.95, -15), (2024.14, -3), (2024.53, -2), (2024.73, -1),
]

PANEL_NAMES = ["Indonesia", "Malaysia", "Singapore", "Thailand", "Vietnam", "SP500_return",
               "MSCI_EM_return", "CleanEnergy_return", "Gold_return", "GPR_Global",
               "Economic_Uncertainty"]
PANEL_POS = [INDONESIA_POS, MALAYSIA_POS, SINGAPORE_POS, THAILAND_POS, VIETNAM_POS, SP500_POS,
             MSCI_POS, CLEAN_POS, GOLD_POS, GPR_POS, ECON_POS]
PANEL_NEG = [INDONESIA_NEG, MALAYSIA_NEG, SINGAPORE_NEG, THAILAND_NEG, VIETNAM_NEG, SP500_NEG,
             MSCI_NEG, CLEAN_NEG, GOLD_NEG, GPR_NEG, ECON_NEG]
PANEL_YTICKS = [[-100, -50, 0, 50], [-50, 0, 50, 100], [-80, -40, 0, 40, 80, 120], [-50, 0, 50],
                [-100, -50, 0, 50], [-75, -50, -25, 0, 25, 50], [-40, 0, 40], [-40, 0, 40, 80],
                [-50, 0, 50, 100], [-100, -50, 0, 50], [0, 200, 400, 600]]
LEGEND_LABELS = ["Net Receiver", "Net Transmitter"]

# ---------------- STYLE ----------------
plt.rcParams['font.family'] = ['Liberation Sans', 'DejaVu Sans']
plt.rcParams['axes.unicode_minus'] = False

BLUE = "#93CFE9"
SALMON = "#FFBDA6"
GRID = "#EBEBEB"
BORDER = "#333333"
TICKTXT = "#4D4D4D"

W, H, DPI = 3582, 2506, 300
fig = plt.figure(figsize=(W / DPI, H / DPI), dpi=DPI)
fig.patch.set_facecolor("white")


def px_rect(x0, y0, x1, y1):
    return [x0 / W, 1 - y1 / H, (x1 - x0) / W, (y1 - y0) / H]


COL_LEFT = [177, 1209, 2232]
COL_W = 921
ROW_TOP = [22, 609, 1196, 1783]
STRIP_H = 72
PLOT_H = 492

all_x = [p[0] for lst in PANEL_POS + PANEL_NEG for p in lst]
xmin, xmax = min(all_x), max(all_x)
xr = xmax - xmin
XLIM = (xmin - 0.05 * xr, xmax + 0.05 * xr)

bottom_panels = {9, 10, 8}

for i, name in enumerate(PANEL_NAMES):
    r, c = divmod(i, 3)
    left = COL_LEFT[c]
    top = ROW_TOP[r]
    ax = fig.add_axes(px_rect(left, top + STRIP_H, left + COL_W, top + STRIP_H + PLOT_H))
    sax = fig.add_axes(px_rect(left, top, left + COL_W, top + STRIP_H))

    # strip
    sax.set_facecolor("#D9D9D9")
    sax.set_xticks([]); sax.set_yticks([])
    for s in sax.spines.values():
        s.set_color(BORDER); s.set_linewidth(0.8)
    sax.text(0.5, 0.5, name, ha="center", va="center", fontsize=8.8, fontweight="bold",
             color="#1A1A1A", transform=sax.transAxes)

    pos = PANEL_POS[i]
    neg = PANEL_NEG[i]
    for pts, col in ((pos, BLUE), (neg, SALMON)):
        x = np.array([p[0] for p in pts], dtype=float)
        y = np.array([p[1] for p in pts], dtype=float)
        ax.fill_between(x, y, 0, facecolor=col, edgecolor="none", linewidth=0, zorder=2)
        ax.plot(x, y, color="black", linewidth=0.55, zorder=3)
    ax.axhline(0, color="black", linewidth=0.9, zorder=4)

    yv = [p[1] for p in pos + neg] + [0]
    ymin, ymax = min(yv), max(yv)
    yr = ymax - ymin
    ax.set_ylim(ymin - 0.05 * yr, ymax + 0.05 * yr)
    ax.set_xlim(*XLIM)

    ax.set_yticks(PANEL_YTICKS[i])
    ax.set_yticklabels([str(v) for v in PANEL_YTICKS[i]])
    ax.set_xticks(YEAR_TICKS)
    ax.grid(True, color=GRID, linewidth=1.0, zorder=0)
    ax.set_axisbelow(True)
    for s in ax.spines.values():
        s.set_color(BORDER); s.set_linewidth(0.8); s.set_zorder(5)
    ax.tick_params(axis="y", length=2.75, width=0.8, color=BORDER, labelsize=8.8,
                   labelcolor=TICKTXT, pad=2.2)
    if i in bottom_panels:
        ax.set_xticklabels([str(v) for v in YEAR_TICKS], rotation=45, ha="right",
                           va="top", rotation_mode="anchor")
        ax.tick_params(axis="x", length=2.75, width=0.8, color=BORDER, labelsize=8.8,
                       labelcolor=TICKTXT, pad=2.2)
    else:
        ax.tick_params(axis="x", length=0, labelbottom=False)

# axis titles
fig.text(50 / W, 1 - 1185 / H, "NET Connectedness (TO \u2212 FROM, %)", rotation=90,
         ha="center", va="center", fontsize=11, color="black")
fig.text(1665 / W, 1 - 2474 / H, "Years", ha="center", va="center", fontsize=11, color="black")

# legend
for k, (lab, col) in enumerate(zip(LEGEND_LABELS, [SALMON, BLUE])):
    y0 = 1133 + k * 84
    rect = Rectangle((3220 / W, 1 - (y0 + 83) / H), 83 / W, 83 / H, transform=fig.transFigure,
                     facecolor=col, edgecolor="black", linewidth=0.6)
    fig.add_artist(rect)
    fig.text(3330 / W, 1 - (y0 + 42) / H, lab, ha="left", va="center", fontsize=8.4,
             color="black")

fig.savefig("out.png", dpi=DPI, facecolor="white")
